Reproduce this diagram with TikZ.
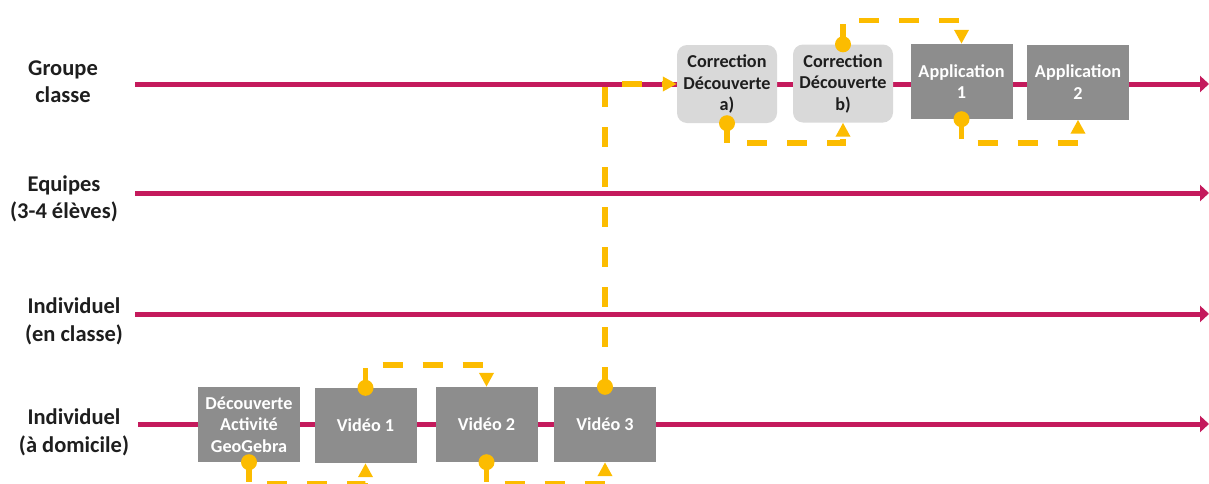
\documentclass[tikz,border=0pt]{standalone}
\usepackage{fontspec}
\setmainfont{Carlito}
\usetikzlibrary{arrows.meta}

\definecolor{lanepink}{RGB}{196,26,92}
\definecolor{flowgold}{RGB}{252,188,0}
\definecolor{boxdark}{RGB}{141,141,141}
\definecolor{boxlight}{RGB}{217,217,217}
\definecolor{labelink}{RGB}{30,30,30}

\tikzset{
  lane/.style={draw=lanepink, line width=5pt, -{Triangle[length=9pt,width=16pt]}},
  lanelabel/.style={anchor=base, inner sep=0pt, text=labelink,
    font=\fontsize{22.5}{26}\selectfont\bfseries},
  activity/.style={fill=boxdark, text=white, minimum width=102pt, minimum height=75pt,
    inner sep=0pt, align=center, font=\fontsize{18.2}{21.5}\selectfont\bfseries},
  correction/.style={fill=boxlight, text=labelink, rounded corners=10pt,
    minimum width=100pt, minimum height=78pt, inner sep=0pt, align=center,
    font=\fontsize{18.2}{21.5}\selectfont\bfseries},
  flow/.style={draw=flowgold, line width=5.5pt, dash pattern=on 20pt off 20pt,
    -{Triangle[length=14pt,width=14pt]}},
  flowdot/.style={fill=flowgold},
}

\begin{document}
\begin{tikzpicture}[x=1pt,y=-1pt]
\useasboundingbox (0,0) rectangle (1209,483);

% lane labels
\node[lanelabel] (lg1) at (63,75)  {Groupe};
\node[lanelabel] (lg2) at (63,102) {classe};
\node[lanelabel] (le1) at (64,191) {Equipes};
\node[lanelabel] (le2) at (64,218) {(3-4 élèves)};
\node[lanelabel] (lc1) at (74,313) {Individuel};
\node[lanelabel] (lc2) at (74,341) {(en classe)};
\node[lanelabel] (ld1) at (74,424) {Individuel};
\node[lanelabel] (ld2) at (74,452) {(à domicile)};

% lanes
\coordinate (gs) at (135,84);  \coordinate (ge) at (1209,84);
\coordinate (es) at (135,193); \coordinate (ee) at (1209,193);
\coordinate (cs) at (135,314); \coordinate (ce) at (1209,314);
\coordinate (ds) at (138,424); \coordinate (de) at (1209,424);
\draw[lane] (gs) -- (ge);
\draw[lane] (es) -- (ee);
\draw[lane] (cs) -- (ce);
\draw[lane] (ds) -- (de);

% home activities
\node[activity] (disc) at (249,424.5)   {Découverte\\Activité\\GeoGebra};
\node[activity] (v1)   at (365.5,425.5) {Vidéo 1};
\node[activity] (v2)   at (486.5,424.5) {Vidéo 2};
\node[activity] (v3)   at (605,424.5)   {Vidéo 3};

% whole-class activities
\node[correction] (ca) at (727,84)     {Correction\\Découverte\\a)};
\node[correction] (cb) at (843,83.5)   {Correction\\Découverte\\b)};
\node[activity]   (a1) at (961.5,81.5) {Application\\1};
\node[activity]   (a2) at (1078,82)    {Application\\2};

% sequence of work
\draw[flow] (disc.south) -- ++(0,22) -| (v1.south);
\draw[flow] (v1.north) -- ++(0,-23) -| (v2.north);
\draw[flow] (v2.south) -- ++(0,22) -| (v3.south);
\draw[flow] (v3.north) |- (ca.west);
\draw[flow] (ca.south) -- ++(0,20) -| (cb.south);
\draw[flow] (cb.north) -- ++(0,-24) -| (a1.north);
\draw[flow] (a1.south) -- ++(0,24) -| (a2.south);

% start markers
\foreach \p in {disc.south, v1.north, v2.south, v3.north, ca.south, cb.north, a1.south}
  \fill[flowdot] (\p) circle (8pt);
\end{tikzpicture}
\end{document}
